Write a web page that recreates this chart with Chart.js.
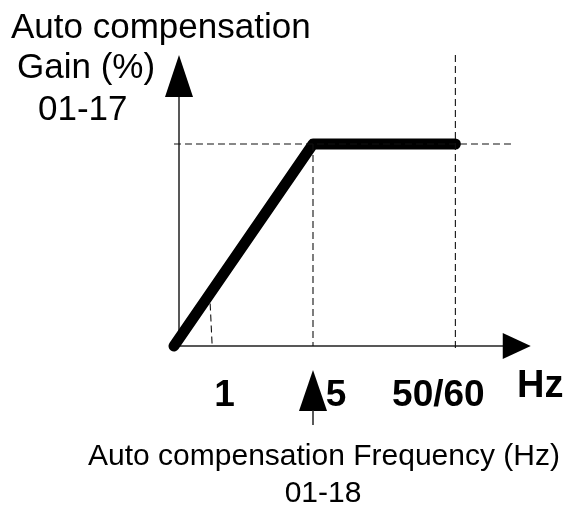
<!DOCTYPE html>
<html lang="en">
<head>
    <meta charset="UTF-8">
    <title>Auto compensation gain</title>
    <script src="https://cdn.jsdelivr.net/npm/chart.js"></script>
    <style>
        body {
            margin: 0;
            background: white;
        }
        .chart-container {
            width: 571px;
            height: 506px;
        }
    </style>
</head>
<body>
    <div class="chart-container">
        <canvas id="gainChart" width="571" height="506"></canvas>
    </div>

    <script>
        // schematic x positions (not to scale): where each frequency sits on the axis
        const tickPos = [1, 4, 8.25];
        const tickLabels = ['1', '5', '50/60'];

        // gain curve (%), rises to the 01-17 level at 5 Hz then stays flat
        const curveX = [-0.15, 4, 8.25];
        const curveY = [0, 100, 100];

        // dashed guide lines
        const guideLevelX = [-0.15, 10];
        const guideLevelY = [100, 100];
        const guideAtFiveY = [100, 0];
        const guideAtBaseY = [144, -1];
        const guideAtOneX = [0.93, 0.99];
        const guideAtOneY = [21, 0];

        // axis arrow tips
        const xArrowTip = 10.5;
        const yArrowTip = 144;

        const toPoints = (xs, ys) => xs.map((v, i) => ({ x: v, y: ys[i] }));

        function dashed(data) {
            return {
                data: data,
                borderColor: '#111',
                borderWidth: 1.1,
                borderDash: [7, 4],
                pointRadius: 0,
                showLine: true
            };
        }

        const arrowsAndText = {
            id: 'arrowsAndText',
            beforeDatasetsDraw(chart) {
                const { ctx, scales: { x, y } } = chart;
                const x0 = x.getPixelForValue(0);
                const y0 = y.getPixelForValue(0);
                const yTop = y.getPixelForValue(yArrowTip);
                const xEnd = x.getPixelForValue(xArrowTip);

                ctx.save();
                ctx.strokeStyle = '#222';
                ctx.fillStyle = '#000';
                ctx.lineWidth = 1.5;
                ctx.beginPath();
                ctx.moveTo(x0, y0);
                ctx.lineTo(x0, yTop + 40);
                ctx.moveTo(x0, y0);
                ctx.lineTo(xEnd - 26, y0);
                ctx.stroke();

                // y arrow head
                ctx.beginPath();
                ctx.moveTo(x0, yTop);
                ctx.lineTo(x0 - 14, yTop + 42);
                ctx.lineTo(x0 + 14, yTop + 42);
                ctx.closePath();
                ctx.fill();

                // x arrow head
                ctx.beginPath();
                ctx.moveTo(xEnd, y0);
                ctx.lineTo(xEnd - 28, y0 - 13);
                ctx.lineTo(xEnd - 28, y0 + 13);
                ctx.closePath();
                ctx.fill();

                // small arrow pointing at the 5 Hz setting
                const x5 = x.getPixelForValue(tickPos[1]);
                ctx.beginPath();
                ctx.moveTo(x5, y0 + 24);
                ctx.lineTo(x5 - 14, y0 + 65);
                ctx.lineTo(x5 + 14, y0 + 65);
                ctx.closePath();
                ctx.fill();
                ctx.beginPath();
                ctx.moveTo(x5, y0 + 64);
                ctx.lineTo(x5, y0 + 79);
                ctx.stroke();
                ctx.restore();
            },
            afterDraw(chart) {
                const { ctx, scales: { x, y } } = chart;
                const y0 = y.getPixelForValue(0);
                ctx.save();
                ctx.fillStyle = '#000';

                // tick labels
                const shift = [12, 23, -17];
                ctx.font = 'bold 37px "Liberation Sans", Arial, sans-serif';
                ctx.textAlign = 'center';
                ctx.textBaseline = 'alphabetic';
                tickLabels.forEach((t, i) => {
                    ctx.fillText(t, x.getPixelForValue(tickPos[i]) + shift[i], y0 + 60);
                });
                ctx.textAlign = 'left';
                ctx.font = 'bold 38px "Liberation Sans", Arial, sans-serif';
                ctx.fillText('Hz', 517, y0 + 51);

                // y axis title
                ctx.font = '35px "Liberation Sans", Arial, sans-serif';
                ctx.fillText('Auto compensation', 11, 38);
                ctx.fillText('Gain (%)', 17, 78);
                ctx.fillText('01-17', 38, 120);

                // x axis title
                ctx.font = '30px "Liberation Sans", Arial, sans-serif';
                ctx.textAlign = 'center';
                ctx.fillText('Auto compensation Frequency (Hz)', 324, 465);
                ctx.fillText('01-18', 323, 502);
                ctx.restore();
            }
        };

        const ctx = document.getElementById('gainChart').getContext('2d');
        const gainChart = new Chart(ctx, {
            type: 'scatter',
            data: {
                datasets: [
                    dashed(toPoints(guideLevelX, guideLevelY)),
                    dashed(toPoints([tickPos[1], tickPos[1]], guideAtFiveY)),
                    dashed(toPoints([tickPos[2], tickPos[2]], guideAtBaseY)),
                    dashed(toPoints(guideAtOneX, guideAtOneY)),
                    {
                        data: toPoints(curveX, curveY),
                        borderColor: '#000',
                        borderWidth: 11,
                        borderCapStyle: 'round',
                        borderJoinStyle: 'round',
                        pointRadius: 0,
                        showLine: true
                    }
                ]
            },
            options: {
                responsive: false,
                animation: false,
                layout: {
                    padding: { left: 145.5, right: 40.25, top: 53.1, bottom: 119.6 }
                },
                scales: {
                    x: { type: 'linear', min: -1, max: 10.5, display: false },
                    y: { type: 'linear', min: -20, max: 145, display: false }
                },
                plugins: {
                    legend: { display: false },
                    tooltip: { enabled: false }
                }
            },
            plugins: [arrowsAndText]
        });
    </script>
</body>
</html>
